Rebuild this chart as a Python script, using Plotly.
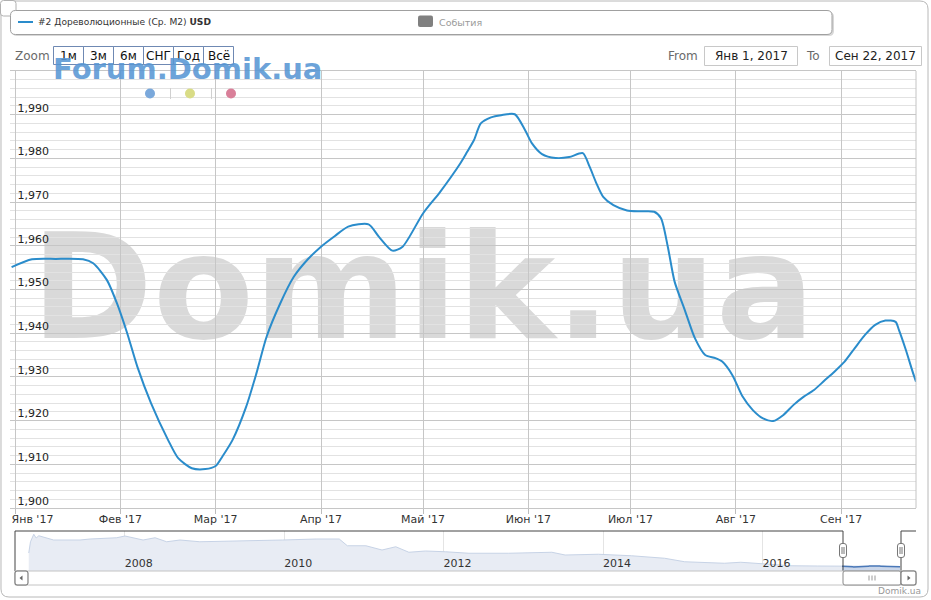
import plotly.graph_objects as go

W, H = 931, 600

# ---------------- data ----------------
dates = [
    "2016-12-31", "2017-01-06", "2017-01-13", "2017-01-21", "2017-01-24", "2017-01-28", "2017-01-31",
    "2017-02-03", "2017-02-06", "2017-02-10", "2017-02-15", "2017-02-18", "2017-02-22", "2017-02-26",
    "2017-03-01", "2017-03-03", "2017-03-06", "2017-03-10", "2017-03-13", "2017-03-16", "2017-03-20",
    "2017-03-24", "2017-03-28",
    "2017-04-01", "2017-04-05", "2017-04-09", "2017-04-15", "2017-04-18", "2017-04-22", "2017-04-25",
    "2017-05-01", "2017-05-06", "2017-05-12", "2017-05-14", "2017-05-16", "2017-05-18", "2017-05-21",
    "2017-05-24", "2017-05-28", "2017-05-31",
    "2017-06-02", "2017-06-05", "2017-06-09", "2017-06-13", "2017-06-17", "2017-06-19", "2017-06-21",
    "2017-06-23", "2017-06-26", "2017-06-30",
    "2017-07-04", "2017-07-08", "2017-07-10", "2017-07-12", "2017-07-14", "2017-07-17", "2017-07-20",
    "2017-07-23", "2017-07-26", "2017-07-28", "2017-07-31",
    "2017-08-03", "2017-08-06", "2017-08-09", "2017-08-12", "2017-08-15", "2017-08-18", "2017-08-21",
    "2017-08-24", "2017-08-27", "2017-08-30",
    "2017-09-02", "2017-09-05", "2017-09-08", "2017-09-11", "2017-09-14", "2017-09-17", "2017-09-18",
    "2017-09-20", "2017-09-22", "2017-09-23",
]
values = [
    1.9551, 1.9569, 1.9570, 1.9569, 1.9560, 1.9522, 1.9468,
    1.9400, 1.9323, 1.9240, 1.9156, 1.9114, 1.9091, 1.9089,
    1.9096, 1.9118, 1.9156, 1.9232, 1.9308, 1.9392, 1.9468,
    1.9529, 1.9568,
    1.9598, 1.9622, 1.9644, 1.9649, 1.9621, 1.9589, 1.9598,
    1.9674, 1.9723, 1.9789, 1.9815, 1.9842, 1.9880, 1.9894,
    1.9899, 1.9901, 1.9865,
    1.9835, 1.9810, 1.9801, 1.9803, 1.9812, 1.9781, 1.9743,
    1.9712, 1.9693, 1.9681,
    1.9679, 1.9678, 1.9663, 1.9598, 1.9518, 1.9453, 1.9388,
    1.9350, 1.9343, 1.9335, 1.9304,
    1.9255, 1.9224, 1.9205, 1.9199, 1.9213, 1.9236, 1.9255,
    1.9270, 1.9291, 1.9312,
    1.9335, 1.9366, 1.9396, 1.9419, 1.9429, 1.9426, 1.9407,
    1.9362, 1.9312, 1.9289,
]

# long history shown in the navigator
nav_dates = [
    "2006-10-18", "2006-10-26", "2006-11-10", "2006-11-21", "2006-12-03", "2007-02-09", "2007-06-10",
    "2007-07-26", "2007-11-25", "2008-01-02", "2008-03-25", "2008-05-19", "2008-07-11", "2008-09-10",
    "2008-12-10", "2009-08-08", "2009-12-24", "2010-05-27", "2010-09-10", "2010-10-17", "2011-01-10",
    "2011-03-25", "2011-05-27", "2011-07-26", "2011-10-10", "2012-01-10", "2012-04-26", "2012-10-25",
    "2013-05-11", "2013-07-11", "2013-12-10", "2014-05-11", "2014-10-10", "2015-01-10", "2015-03-11",
    "2015-07-11", "2015-09-24", "2015-12-10", "2016-03-11", "2016-05-11", "2016-09-10",
]
nav_values = [
    3.02, 3.92, 4.52, 4.22, 4.40, 4.06, 4.06,
    4.14, 4.24, 4.38, 4.06, 4.24, 3.92, 4.06,
    3.92, 3.98, 4.06, 4.14, 4.14, 3.60, 3.60,
    3.26, 3.52, 3.08, 3.18, 3.12, 3.00, 3.00,
    3.08, 2.86, 2.92, 2.80, 2.60, 2.32, 2.28,
    2.20, 2.28, 2.20, 2.12, 2.00, 1.98,
]

month_ticks = ["2017-01-01", "2017-02-01", "2017-03-01", "2017-04-01", "2017-05-01",
               "2017-06-01", "2017-07-01", "2017-08-01", "2017-09-01"]
month_labels = ["Янв '17", "Фев '17", "Мар '17", "Апр '17", "Май '17",
                "Июн '17", "Июл '17", "Авг '17", "Сен '17"]
y_ticks = [1.90, 1.91, 1.92, 1.93, 1.94, 1.95, 1.96, 1.97, 1.98, 1.99]
nav_year_ticks = ["2008-01-01", "2010-01-01", "2012-01-01", "2014-01-01", "2016-01-01"]
nav_year_labels = ["2008", "2010", "2012", "2014", "2016"]
zoom_buttons = ["1м", "3м", "6м", "СНГ", "Год", "Всё"]
series_name = "#2 Дореволюционные (Ср. M2)"
currency = "USD"
events_label = "События"
from_value = "Янв 1, 2017"
to_value = "Сен 22, 2017"

# ---------------- helpers ----------------
FONT = "DejaVu Sans"
LINE_BLUE = "#2a8ccb"


def px(x):
    return x / W


def py(y):
    return 1 - y / H


def P(x, y):
    return f"{px(x):.6f},{py(y):.6f}"


def rrect(x0, y0, x1, y1, r):
    return (f"M{P(x0 + r, y0)} L{P(x1 - r, y0)} Q{P(x1, y0)} {P(x1, y0 + r)} "
            f"L{P(x1, y1 - r)} Q{P(x1, y1)} {P(x1 - r, y1)} L{P(x0 + r, y1)} "
            f"Q{P(x0, y1)} {P(x0, y1 - r)} L{P(x0, y0 + r)} Q{P(x0, y0)} {P(x0 + r, y0)} Z")


shapes = []
annotations = []


def path_shape(path, line_color="rgba(0,0,0,0)", width=1, fill="rgba(0,0,0,0)", layer="above"):
    shapes.append(dict(type="path", xref="paper", yref="paper", path=path,
                       line=dict(color=line_color, width=width), fillcolor=fill, layer=layer))


def line_shape(x0, y0, x1, y1, color, width=1):
    shapes.append(dict(type="line", xref="paper", yref="paper",
                       x0=px(x0), y0=py(y0), x1=px(x1), y1=py(y1),
                       line=dict(color=color, width=width), layer="above"))


def text(x, y, s, size=12, color="#333", anchor="left", bold=False, family=FONT):
    annotations.append(dict(xref="paper", yref="paper", x=px(x), y=py(y), text=s,
                            showarrow=False, xanchor=anchor, yanchor="middle",
                            font=dict(family=family, size=size, color=color,
                                      weight="bold" if bold else "normal")))


# ---------------- figure ----------------
fig = go.Figure()

fig.add_trace(go.Scatter(
    x=dates, y=values, mode="lines", xaxis="x", yaxis="y",
    line=dict(color=LINE_BLUE, width=2, shape="spline", smoothing=0.7),
    hoverinfo="skip", showlegend=False))

fig.add_trace(go.Scatter(
    x=nav_dates + dates, y=nav_values + values, mode="lines", xaxis="x2", yaxis="y2",
    fill="tozeroy", fillcolor="#e8ecf4", line=dict(color="#c7d3e6", width=1),
    hoverinfo="skip", showlegend=False))

fig.add_trace(go.Scatter(
    x=dates, y=values, mode="lines", xaxis="x2", yaxis="y2",
    fill="tozeroy", fillcolor="#cbd7ea", line=dict(color="#4a78b8", width=1.5),
    hoverinfo="skip", showlegend=False))

# the first label sits to the right of its tick, as in the original
first_label = "\u00a0" * 10 + month_labels[0]
tick_text = [first_label] + month_labels[1:]

# ---- decorations ----
# outer chart border
path_shape(rrect(1, 1, 928, 597, 8), line_color="#b8b8b8", fill="rgba(0,0,0,0)")
# small box top-left
path_shape(rrect(0.5, 0.5, 16, 16, 3), line_color="#b0b0b0", fill="white")
# legend box with shadow
path_shape(rrect(12, 12, 834, 36, 5), line_color="rgba(0,0,0,0)", fill="#d8d8d8")
path_shape(rrect(10.5, 10.5, 832, 34.5, 5), line_color="#a0a0a0", fill="white")
line_shape(18, 22, 33, 22, LINE_BLUE, 2)
text(36, 22.5, f"{series_name} <b>{currency}</b>", size=9.1, color="#333")
path_shape(rrect(418, 15.5, 433, 27, 2), fill="#808080")
text(436.5, 22.5, events_label, size=9.5, color="#9a9a9a")

# range selector
text(13, 56, "Zoom", size=12, color="#6a6a6a")
bx = [53.5, 83.5, 113.5, 143.5, 173.5, 203.5, 233.5]
for i, lab in enumerate(zoom_buttons):
    shapes.append(dict(type="rect", xref="paper", yref="paper",
                       x0=px(bx[i]), x1=px(bx[i + 1]), y0=py(64.5), y1=py(46.5),
                       line=dict(color="#6f89b3", width=1), fillcolor="rgba(0,0,0,0)", layer="above"))
    text((bx[i] + bx[i + 1]) / 2, 56, lab, size=12, color="#111", anchor="center")

text(666, 56, "From", size=12, color="#6a6a6a")
shapes.append(dict(type="rect", xref="paper", yref="paper", x0=px(704.5), x1=px(797.5),
                   y0=py(65.5), y1=py(46.5), line=dict(color="#c8c8c8", width=1), layer="above"))
text(751, 56, from_value, size=12, color="#222", anchor="center")
text(804, 56, "To", size=12, color="#6a6a6a")
shapes.append(dict(type="rect", xref="paper", yref="paper", x0=px(829.5), x1=px(921.5),
                   y0=py(65.5), y1=py(46.5), line=dict(color="#c8c8c8", width=1), layer="above"))
text(875.5, 56, to_value, size=12, color="#222", anchor="center")

# blue watermark + dots
text(187.5, 69, "Forum.Domik.ua", size=29, color="rgba(88,150,212,0.88)", anchor="center", bold=True)
for cx, col in [(150, "#7aa8db"), (190, "#d9dc86"), (231, "#d97f99")]:
    shapes.append(dict(type="circle", xref="paper", yref="paper",
                       x0=px(cx - 5), x1=px(cx + 5), y0=py(98.5), y1=py(88.5),
                       line=dict(width=0), fillcolor=col, layer="above"))
line_shape(170.5, 88, 170.5, 99, "#d0d0d0")
line_shape(211.5, 88, 211.5, 99, "#d0d0d0")

# big grey watermark (under the grid)
shapes.append(dict(type="rect", xref="paper", yref="paper",
                   x0=px(24), x1=px(822), y0=py(364), y1=py(189),
                   line=dict(width=0), fillcolor="rgba(0,0,0,0)", layer="below",
                   label=dict(text="Domik.ua", textposition="middle center",
                              font=dict(family=FONT, size=147, color="#d9d9d9", weight="bold"))))

# right border of main plot
line_shape(916, 71, 916, 508, "#c4c4c4")

# navigator outline & handles
path_shape(f"M{P(15, 571)} L{P(15, 531)} L{P(843, 531)} L{P(843, 571)} M{P(901, 571)} "
           f"L{P(901, 531)} L{P(916, 531)}", line_color="#444", width=1)
for hx in (843, 901):
    path_shape(rrect(hx - 3.5, 543.5, hx + 3.5, 557.5, 2.5), line_color="#777", fill="white")
    line_shape(hx - 1, 547, hx - 1, 554, "#777")
    line_shape(hx + 1, 547, hx + 1, 554, "#777")

# scrollbar
shapes.append(dict(type="rect", xref="paper", yref="paper", x0=px(15), x1=px(916),
                   y0=py(585), y1=py(571), line=dict(color="#c4c4c4", width=1),
                   fillcolor="white", layer="above"))
path_shape(rrect(15, 571, 28, 585, 2), line_color="#666", fill="white")
path_shape(f"M{P(22.5, 575.5)} L{P(22.5, 580.5)} L{P(19.5, 578)} Z", fill="#666")
path_shape(rrect(843, 571, 901, 585, 2), line_color="#888", fill="white")
for gx in (869, 872, 875):
    line_shape(gx, 575.5, gx, 580.5, "#999")
path_shape(rrect(901, 571, 916, 585, 2), line_color="#666", fill="white")
path_shape(f"M{P(907.5, 575.5)} L{P(907.5, 580.5)} L{P(910.5, 578)} Z", fill="#666")

# credits
text(923, 591, "Domik.ua", size=9, color="#999", anchor="right")

fig.update_layout(
    width=W, height=H,
    margin=dict(l=0, r=0, t=0, b=0, autoexpand=False),
    paper_bgcolor="white", plot_bgcolor="rgba(0,0,0,0)",
    separators=", ",
    showlegend=False,
    font=dict(family=FONT, size=11, color="#333"),
    xaxis=dict(
        domain=[px(10), px(916)], anchor="y", type="date", automargin=False,
        range=["2016-12-30 12:43", "2017-09-23 00:00"],
        tickmode="array", tickvals=month_ticks, ticktext=tick_text,
        ticks="outside", ticklen=5, tickcolor="#bdbdbd", tickwidth=1,
        ticklabelstandoff=-4, ticklabeloverflow="allow",
        showgrid=True, gridcolor="#c6c6c6", gridwidth=1,
        showline=True, linecolor="#c6c6c6", mirror=True,
        zeroline=False, tickfont=dict(family=FONT, size=11, color="#333"),
        fixedrange=True,
    ),
    yaxis=dict(
        domain=[py(508), py(71)], anchor="x", automargin=False,
        range=[1.9, 2.0],
        tickmode="array", tickvals=y_ticks, tickformat=".3f",
        ticks="", ticklabelposition="outside", ticklabelshift=-7, ticklabelstandoff=-40,
        showgrid=True, gridcolor="#c6c6c6", gridwidth=1,
        minor=dict(tickmode="linear", tick0=1.9, dtick=0.002, showgrid=True,
                   gridcolor="#e2e2e2", gridwidth=1, ticks=""),
        showline=False, zeroline=False,
        tickfont=dict(family=FONT, size=11, color="#222"),
        fixedrange=True,
    ),
    xaxis2=dict(
        domain=[px(15), px(916)], anchor="y2", type="date", automargin=False,
        range=["2006-08-16", "2017-12-05"],
        tickmode="array", tickvals=nav_year_ticks, ticktext=nav_year_labels,
        ticks="", ticklabelposition="inside right", ticklabelstandoff=-4,
        showgrid=True, gridcolor="#e4e4e4", gridwidth=1,
        showline=False, zeroline=False,
        tickfont=dict(family=FONT, size=11, color="#333"),
        fixedrange=True,
    ),
    yaxis2=dict(
        domain=[py(571), py(531)], anchor="x2",
        range=[1.58, 4.78], visible=False, fixedrange=True,
    ),
    shapes=shapes,
    annotations=annotations,
)

fig.write_html("out.html", config={"displayModeBar": False},
               post_script="document.body.style.margin='0';")
